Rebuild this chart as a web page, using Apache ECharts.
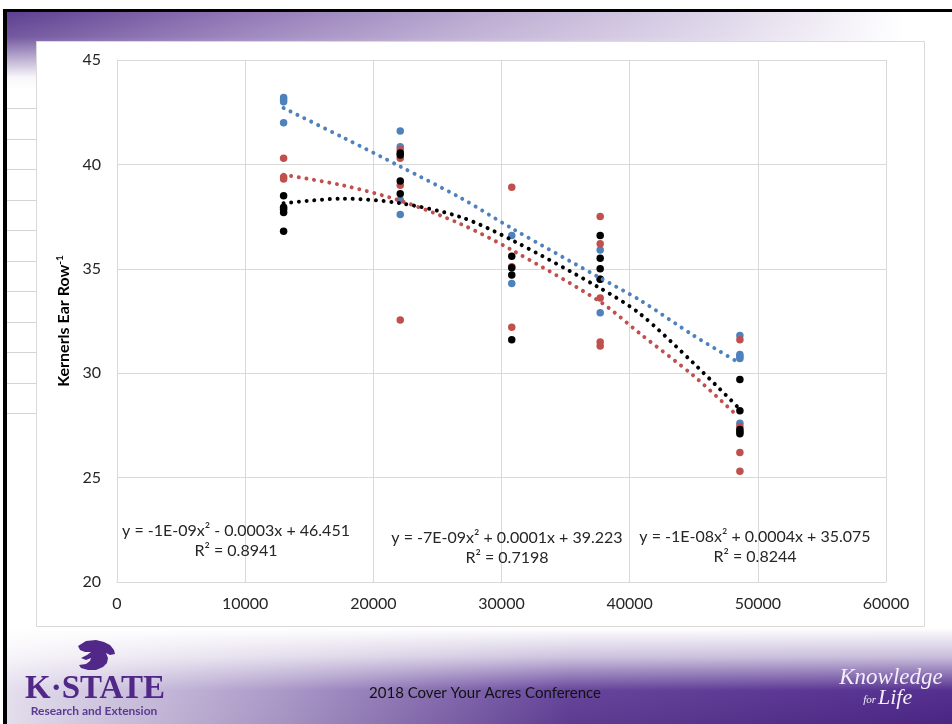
<!DOCTYPE html>
<html>
<head>
<meta charset="utf-8">
<script src="https://cdn.jsdelivr.net/npm/echarts@6/dist/echarts.min.js"></script>
<style>
html,body{margin:0;padding:0;background:#fff;}
#c{width:952px;height:724px;}
</style>
</head>
<body>
<div id="c"></div>
<script>
// ---- data ----
const popX = [13000, 22100, 30800, 37700, 48600];
const blueY = [[43.2, 43.1, 43.0, 42.0], [41.6, 40.85, 38.3, 37.6], [36.6, 34.3], [35.9, 34.5, 32.9], [31.8, 30.9, 30.8, 30.7, 27.6]];
const redY = [[40.3, 39.4, 39.3], [40.7, 40.3, 39.0, 32.55], [38.9, 35.1, 32.2], [37.5, 36.2, 33.6, 31.5, 31.3], [31.6, 27.45, 26.2, 25.3]];
const blackY = [[38.5, 37.95, 37.85, 37.7, 36.8], [40.55, 40.45, 39.2, 38.6], [35.6, 35.05, 34.7, 31.6], [36.6, 35.5, 35.0, 34.5], [29.7, 28.2, 27.3, 27.2, 27.1]];
const trendX = [13000, 17600, 22100, 26800, 30800, 37700, 40800, 45000, 48400];
const blueTrend = [42.7, 41.3, 39.9, 38.4, 36.94, 34.56, 33.5, 31.8, 30.55];
const redTrend = [39.5, 39.0, 38.26, 37.15, 35.9, 33.42, 31.9, 29.87, 27.96];
const blackTrend = [38.14, 38.36, 38.14, 37.48, 36.38, 34.07, 32.85, 30.47, 28.4];
const eqLines = [
  ['y = -1E-09x\u00b2 - 0.0003x + 46.451', 'R\u00b2 = 0.8941'],
  ['y = -7E-09x\u00b2 + 0.0001x + 39.223', 'R\u00b2 = 0.7198'],
  ['y = -1E-08x\u00b2 + 0.0004x + 35.075', 'R\u00b2 = 0.8244']
];
const yTitle = 'Kernerls Ear Row';
const footerText = '2018 Cover Your Acres Conference';

// ---- build ----
function pairs(groups) {
  const out = [];
  groups.forEach((g, i) => g.forEach(v => out.push([popX[i], v])));
  return out;
}
function zipT(ys) { return trendX.map((x, i) => [x, ys[i]]); }

const BLUE = '#4F81BD', RED = '#C0504D', BLACK = '#000000';
const FONT = 'Lato, "Open Sans", sans-serif';

const chart = echarts.init(document.getElementById('c'), null, {renderer: 'canvas'});

const lines = [];
for (let y = 108; y <= 413; y += 30.5) {
  lines.push({type: 'line', z: -5, shape: {x1: 7, y1: Math.round(y) + 0.5, x2: 36, y2: Math.round(y) + 0.5}, style: {stroke: '#d4d4d4', lineWidth: 1}});
}

const eqPos = [[236, 531, 551], [507, 538, 558], [755, 537, 557]];
const eqTexts = [];
eqLines.forEach((l, i) => {
  eqTexts.push({type: 'text', z: 10, x: eqPos[i][0], y: eqPos[i][1], style: {text: l[0], font: '16px ' + FONT, fill: '#262626', align: 'center', verticalAlign: 'middle'}});
  eqTexts.push({type: 'text', z: 10, x: eqPos[i][0], y: eqPos[i][2], style: {text: l[1], font: '16px ' + FONT, fill: '#262626', align: 'center', verticalAlign: 'middle'}});
});

const catPts = [[78,646],[86,641],[96,640],[104,642],[110,645],[114,650],[115,654],[110,655],[106,653],[108,658],[107,663],[103,667],[96,670],[88,670],[81,668],[79,665],[86,664],[90,661],[91,658],[86,660],[81,658],[87,655],[91,652],[85,652],[80,650]];

const option = {
  animation: false,
  backgroundColor: '#ffffff',
  grid: {left: 117, right: 66, top: 60, bottom: 142, containLabel: false},
  xAxis: {
    type: 'value', min: 0, max: 60000, interval: 10000,
    axisLine: {show: true, lineStyle: {color: '#d9d9d9'}},
    axisTick: {show: false},
    splitLine: {show: true, lineStyle: {color: '#d9d9d9', width: 1}},
    axisLabel: {color: '#262626', fontSize: 16, fontFamily: FONT, margin: 14, formatter: v => String(v)}
  },
  yAxis: {
    type: 'value', min: 20, max: 45, interval: 5,
    name: yTitle + '{s|-1}', nameLocation: 'middle', nameGap: 43, nameRotate: 90,
    nameTextStyle: {color: '#000', fontSize: 16, fontWeight: 'bold', fontFamily: FONT,
      rich: {s: {fontSize: 10, fontWeight: 'bold', fontFamily: FONT, color: '#000', verticalAlign: 'top', padding: [0, 0, 7, 0]}}},
    axisLine: {show: true, lineStyle: {color: '#d9d9d9'}},
    axisTick: {show: false},
    splitLine: {show: true, lineStyle: {color: '#d9d9d9', width: 1}},
    axisLabel: {color: '#262626', fontSize: 16, fontFamily: FONT, margin: 16, formatter: v => String(v)}
  },
  series: [
    {type: 'scatter', name: 'blue', data: pairs(blueY), symbolSize: 7.5, itemStyle: {color: BLUE, opacity: 1}, z: 2},
    {type: 'scatter', name: 'red', data: pairs(redY), symbolSize: 7.5, itemStyle: {color: RED, opacity: 1}, z: 3},
    {type: 'scatter', name: 'black', data: pairs(blackY), symbolSize: 7.5, itemStyle: {color: BLACK, opacity: 1}, z: 4},
    {type: 'line', data: zipT(blueTrend), smooth: 0.3, showSymbol: false, z: 5,
      lineStyle: {color: BLUE, width: 4, type: [0.01, 7.7], cap: 'round'}},
    {type: 'line', data: zipT(redTrend), smooth: 0.3, showSymbol: false, z: 5,
      lineStyle: {color: RED, width: 4, type: [0.01, 7.7], cap: 'round'}},
    {type: 'line', data: zipT(blackTrend), smooth: 0.3, showSymbol: false, z: 5,
      lineStyle: {color: BLACK, width: 4, type: [0.01, 7.7], cap: 'round'}}
  ],
  graphic: {elements: [
    {type: 'rect', z: -10, shape: {x: 0, y: 9, width: 952, height: 80},
      style: {fill: {type: 'linear', x: 0, y: 0, x2: 1, y2: 0, colorStops: [
        {offset: 0, color: '#5a3a8e'}, {offset: 0.25, color: '#8e74b4'}, {offset: 0.5, color: '#b9a8d0'},
        {offset: 0.75, color: '#dcd3e8'}, {offset: 0.95, color: '#ffffff'}]}}},
    {type: 'rect', z: -9, shape: {x: 0, y: 9, width: 952, height: 80},
      style: {fill: {type: 'linear', x: 0, y: 0, x2: 0, y2: 1, colorStops: [
        {offset: 0, color: 'rgba(255,255,255,0)'}, {offset: 0.35, color: 'rgba(255,255,255,0.15)'},
        {offset: 0.85, color: 'rgba(255,255,255,0.95)'}, {offset: 1, color: '#ffffff'}]}}},
    {type: 'rect', z: -10, shape: {x: 0, y: 628, width: 952, height: 96},
      style: {fill: {type: 'linear', x: 0, y: 0, x2: 0, y2: 1, colorStops: [
        {offset: 0, color: '#ffffff'}, {offset: 0.3, color: '#c9bddb'}, {offset: 0.65, color: '#553090'}, {offset: 1, color: '#4a2683'}]}}},
    {type: 'rect', z: -9, shape: {x: 0, y: 628, width: 952, height: 96},
      style: {fill: {type: 'linear', x: 0, y: 0, x2: 1, y2: 0, colorStops: [
        {offset: 0, color: 'rgba(255,255,255,0.85)'}, {offset: 0.3, color: 'rgba(255,255,255,0.5)'},
        {offset: 0.6, color: 'rgba(255,255,255,0.1)'}, {offset: 1, color: 'rgba(255,255,255,0)'}]}}},
    {type: 'rect', z: -8, shape: {x: 0, y: 9, width: 952, height: 3}, style: {fill: '#000'}},
    {type: 'rect', z: -8, shape: {x: 3, y: 9, width: 4, height: 715}, style: {fill: '#000'}},
    {type: 'rect', z: -8, shape: {x: 0, y: 0, width: 3, height: 724}, style: {fill: '#fff'}},
    {type: 'rect', z: -7, shape: {x: 36.5, y: 41.5, width: 888, height: 585}, style: {fill: '#ffffff', stroke: '#d9d9d9', lineWidth: 1}},
    ...lines,
    ...eqTexts,
    {type: 'polygon', z: 10, shape: {points: catPts}, style: {fill: '#512888'}},
    {type: 'text', z: 10, x: 95, y: 689, style: {text: 'K\u00b7STATE', font: 'bold 33px "Liberation Serif", serif', fill: '#512888', align: 'center', verticalAlign: 'middle'}},
    {type: 'text', z: 10, x: 94, y: 711, style: {text: 'Research and Extension', font: 'bold 12px ' + FONT, fill: '#5b3a92', align: 'center', verticalAlign: 'middle'}},
    {type: 'text', z: 10, x: 485, y: 693, style: {text: footerText, font: '15px ' + FONT, fill: '#111', align: 'center', verticalAlign: 'middle'}},
    {type: 'text', z: 10, x: 891, y: 678, style: {text: 'Knowledge', font: 'italic 23px "Liberation Serif", serif', fill: '#f3eef9', align: 'center', verticalAlign: 'middle'}},
    {type: 'text', z: 10, x: 876, y: 700, style: {text: 'for', font: 'italic 11px "Liberation Serif", serif', fill: '#f3eef9', align: 'right', verticalAlign: 'middle'}},
    {type: 'text', z: 10, x: 878, y: 698, style: {text: 'Life', font: 'italic 22px "Liberation Serif", serif', fill: '#f3eef9', align: 'left', verticalAlign: 'middle'}}
  ]}
};
chart.setOption(option);
</script>
</body>
</html>
